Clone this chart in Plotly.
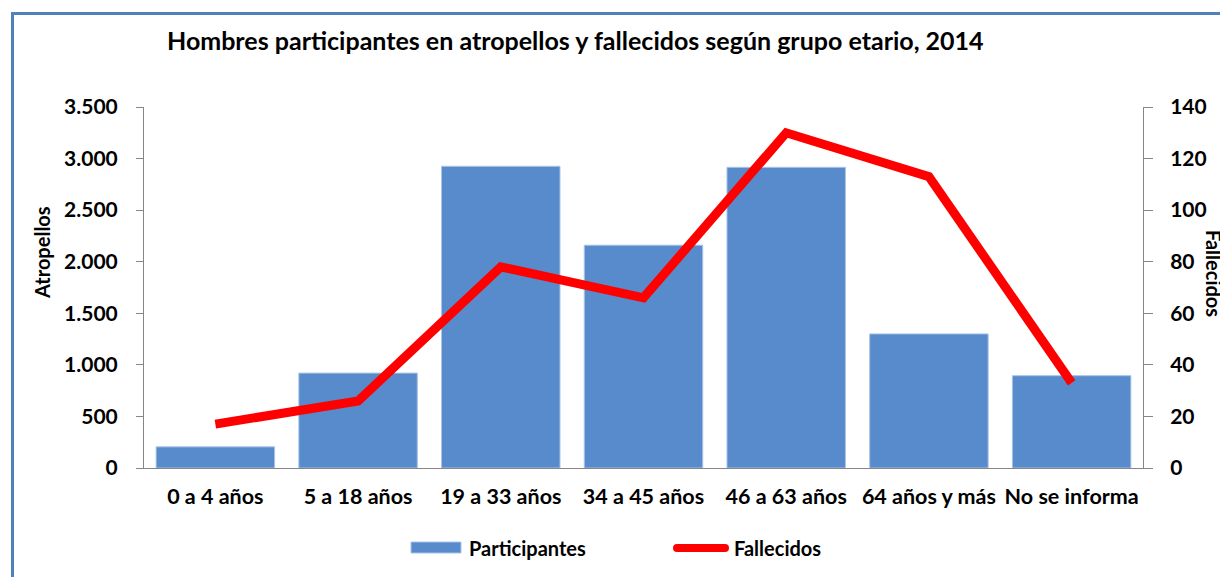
import plotly.graph_objects as go

categorias = ["0 a 4 años", "5 a 18 años", "19 a 33 años", "34 a 45 años",
              "46 a 63 años", "64 años y más", "No se informa"]
participantes = [205, 920, 2925, 2160, 2915, 1300, 895]
fallecidos = [17, 26, 78, 66, 130, 113, 33]

FONT = "Lato"
BLUE = "#588BCB"
RED = "#FF0000"
AXC = "#868686"


def px(x):
    return (x - 144) / 999


def py(y):
    return (468 - y) / 361


fig = go.Figure()
fig.add_trace(go.Bar(x=categorias, y=participantes, name="Participantes",
                     marker=dict(color=BLUE, line=dict(color="#A9C3E6", width=1)),
                     yaxis="y", showlegend=False))
fig.add_trace(go.Scatter(x=categorias, y=fallecidos, name="Fallecidos", mode="lines",
                         line=dict(color=RED, width=9),
                         yaxis="y2", showlegend=False))

fig.update_layout(
    width=1220, height=569,
    margin=dict(l=136, r=85, t=99, b=109),
    paper_bgcolor="white", plot_bgcolor="white",
    separators=",.",
    font=dict(family=FONT, size=18, color="black"),
    bargap=0.17,
    showlegend=False,
    xaxis=dict(showline=True, linecolor=AXC, linewidth=1, ticks="",
               tickfont=dict(family=FONT, size=21.5, color="black", weight="bold"),
               showgrid=False, fixedrange=True, ticklabelstandoff=9),
    yaxis=dict(range=[0, 3500], dtick=500, tickformat=",d", showline=True,
               linecolor=AXC, linewidth=1, ticks="outside", ticklen=7, tickcolor=AXC,
               tickfont=dict(family=FONT, size=21, color="black", weight="bold"),
               showgrid=False, zeroline=False, ticklabelstandoff=14),
    yaxis2=dict(range=[0, 140], dtick=20, overlaying="y", side="right", showline=True,
                linecolor=AXC, linewidth=1, ticks="outside", ticklen=9, tickcolor=AXC,
                tickfont=dict(family=FONT, size=21, color="black", weight="bold"),
                showgrid=False, zeroline=False, ticklabelstandoff=13),
    yaxis3=dict(range=[0, 140], dtick=20, overlaying="y", side="right", anchor="x",
                showline=False, ticks="inside", ticklen=8, tickcolor=AXC,
                showticklabels=False, showgrid=False, zeroline=False),
)

fig.add_annotation(text="Hombres participantes en atropellos y fallecidos según grupo etario, 2014",
                   xref="paper", yref="paper", x=px(165), y=py(40),
                   xanchor="left", yanchor="middle", showarrow=False,
                   font=dict(family=FONT, size=25, color="black", weight="bold"))
fig.add_annotation(text="Atropellos", xref="paper", yref="paper",
                   x=px(42), y=py(253), xanchor="center", yanchor="middle",
                   textangle=-90, showarrow=False,
                   font=dict(family=FONT, size=20, color="black", weight="bold"))
fig.add_annotation(text="Fallecidos", xref="paper", yref="paper",
                   x=px(1214), y=py(273), xanchor="center", yanchor="middle",
                   textangle=90, showarrow=False,
                   font=dict(family=FONT, size=20, color="black", weight="bold"))

# legend
fig.add_shape(type="rect", xref="paper", yref="paper",
              x0=px(411), x1=px(461), y0=py(553), y1=py(542),
              line=dict(color="#A9C3E6", width=1), fillcolor=BLUE)
fig.add_annotation(text="Participantes", xref="paper", yref="paper",
                   x=px(467), y=py(548), xanchor="left", yanchor="middle", showarrow=False,
                   font=dict(family=FONT, size=20, color="black", weight="bold"))
fig.add_shape(type="line", xref="paper", yref="paper",
              x0=px(677), x1=px(725), y0=py(548), y1=py(548),
              line=dict(color=RED, width=8))
for cx in (677, 725):
    fig.add_shape(type="circle", xref="paper", yref="paper",
                  x0=px(cx - 4), x1=px(cx + 4), y0=py(552), y1=py(544),
                  line=dict(width=0), fillcolor=RED)
fig.add_annotation(text="Fallecidos", xref="paper", yref="paper",
                   x=px(732), y=py(548), xanchor="left", yanchor="middle", showarrow=False,
                   font=dict(family=FONT, size=20, color="black", weight="bold"))

# outer frame
fig.add_shape(type="rect", xref="paper", yref="paper",
              x0=px(12.5), x1=1.3, y0=-0.6, y1=py(13.5),
              line=dict(color="#4F81BD", width=3), fillcolor="rgba(0,0,0,0)", layer="below")

fig.write_html("out.html")
